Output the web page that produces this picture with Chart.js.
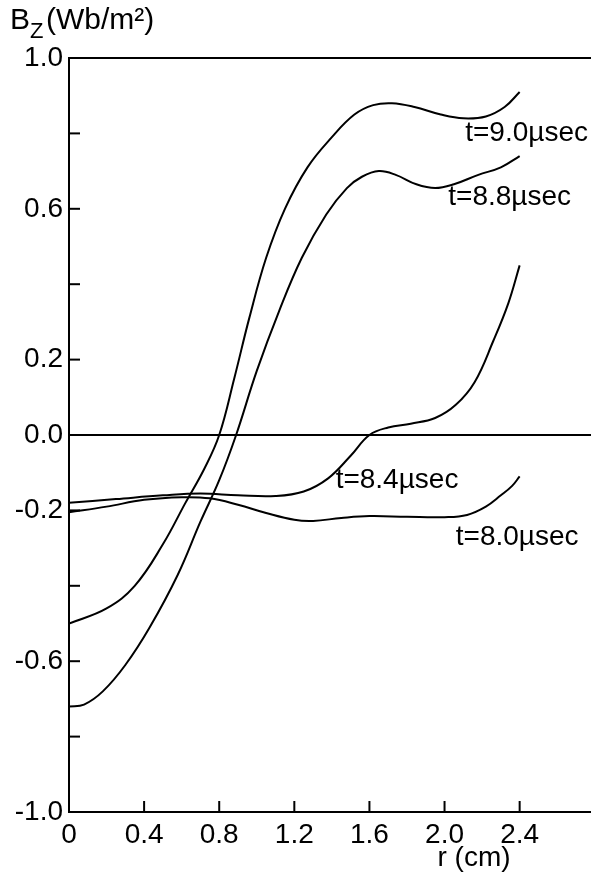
<!DOCTYPE html>
<html>
<head>
<meta charset="utf-8">
<script src="https://cdn.jsdelivr.net/npm/chart.js@4.4.1/dist/chart.umd.min.js"></script>
<style>
    html, body { margin: 0; padding: 0; background: #fff; }
</style>
</head>
<body>
<canvas id="myChart" width="591" height="876"></canvas>
<script>
// radius r (cm) and field Bz (Wb/m^2)
const r_90 = [0, 0.2, 0.35, 0.5, 0.62, 0.72, 0.80, 0.88, 0.96, 1.05, 1.15, 1.27, 1.40, 1.52, 1.62, 1.72, 1.84, 1.98, 2.10, 2.22, 2.32, 2.40];
const bz_90 = [-0.50, -0.46, -0.40, -0.29, -0.18, -0.09, 0.0, 0.15, 0.31, 0.47, 0.60, 0.71, 0.79, 0.85, 0.875, 0.88, 0.87, 0.85, 0.84, 0.845, 0.87, 0.91];

const r_88 = [0, 0.08, 0.18, 0.30, 0.43, 0.58, 0.70, 0.80, 0.89, 1.00, 1.12, 1.24, 1.37, 1.48, 1.56, 1.65, 1.74, 1.85, 1.95, 2.05, 2.18, 2.30, 2.40];
const bz_88 = [-0.72, -0.715, -0.68, -0.61, -0.51, -0.37, -0.23, -0.12, 0.0, 0.17, 0.33, 0.47, 0.585, 0.655, 0.685, 0.70, 0.69, 0.665, 0.655, 0.665, 0.69, 0.71, 0.74];

const r_84 = [0, 0.25, 0.50, 0.70, 0.90, 1.10, 1.25, 1.38, 1.50, 1.60, 1.70, 1.82, 1.95, 2.06, 2.16, 2.26, 2.34, 2.40];
const bz_84 = [-0.18, -0.17, -0.16, -0.155, -0.16, -0.162, -0.15, -0.115, -0.055, 0.0, 0.02, 0.03, 0.045, 0.08, 0.14, 0.25, 0.35, 0.45];

const r_80 = [0, 0.2, 0.4, 0.6, 0.75, 0.90, 1.05, 1.20, 1.30, 1.45, 1.60, 1.80, 2.00, 2.12, 2.22, 2.30, 2.36, 2.40];
const bz_80 = [-0.205, -0.19, -0.172, -0.165, -0.168, -0.185, -0.207, -0.225, -0.228, -0.22, -0.215, -0.217, -0.218, -0.212, -0.19, -0.16, -0.135, -0.11];

const curveNames = ['t=9.0µsec', 't=8.8µsec', 't=8.4µsec', 't=8.0µsec'];
// where each curve name sits, in data units (left edge, middle)
const nameR = [2.11, 2.02, 1.42, 2.06];
const nameBz = [0.80, 0.63, -0.12, -0.27];

const yLabelled = [1.0, 0.6, 0.2, 0.0, -0.2, -0.6, -1.0];
const xLabels = ['0', '0.4', '0.8', '1.2', '1.6', '2.0', '2.4'];

const FONT = "'Liberation Sans', Arial, sans-serif";

function toPoints(xs, ys) {
    return xs.map((x, i) => ({x: x, y: ys[i]}));
}

const series = [[r_90, bz_90], [r_88, bz_88], [r_84, bz_84], [r_80, bz_80]];

// inward tick marks, curve names and axis titles
const extras = {
    id: 'extras',
    afterDraw(chart) {
        const c = chart.ctx;
        const xs = chart.scales.x, ys = chart.scales.y;
        const area = chart.chartArea;
        c.save();
        c.strokeStyle = '#000';
        c.lineWidth = 2;
        ys.ticks.forEach(t => {
            if (Math.abs(t.value) < 1e-6 || Math.abs(Math.abs(t.value) - 1) < 1e-6) return;
            const py = ys.getPixelForValue(t.value);
            c.beginPath();
            c.moveTo(area.left, py);
            c.lineTo(area.left + 11, py);
            c.stroke();
        });
        xs.ticks.forEach(t => {
            if (t.value < 1e-6) return;
            const px = xs.getPixelForValue(t.value);
            c.beginPath();
            c.moveTo(px, area.bottom);
            c.lineTo(px, area.bottom - 11);
            c.stroke();
        });

        c.fillStyle = '#000';
        c.textBaseline = 'middle';
        c.textAlign = 'left';
        c.font = '28px ' + FONT;
        curveNames.forEach((n, i) => {
            c.fillText(n, xs.getPixelForValue(nameR[i]), ys.getPixelForValue(nameBz[i]));
        });

        // y title  B_Z (Wb/m²)
        c.textBaseline = 'alphabetic';
        c.font = '30px ' + FONT;
        c.fillText('B', 10, 29);
        c.font = '22px ' + FONT;
        c.fillText('Z', 30, 38);
        c.font = '30px ' + FONT;
        c.fillText('(Wb/m²)', 46, 29);

        // x title
        c.textAlign = 'center';
        c.font = '28px ' + FONT;
        c.fillText('r (cm)', 474, 866);
        c.restore();
    }
};

const ctx = document.getElementById('myChart');

new Chart(ctx, {
    type: 'scatter',
    data: {
        datasets: series.map((s, i) => ({
            label: curveNames[i],
            data: toPoints(s[0], s[1]),
            showLine: true,
            borderColor: '#000',
            borderWidth: 2,
            pointRadius: 0,
            tension: 0.4,
            fill: false
        }))
    },
    options: {
        responsive: false,
        devicePixelRatio: 1,
        animation: false,
        layout: {padding: {top: 58, right: 0, left: 0, bottom: 0}},
        plugins: {
            legend: {display: false},
            tooltip: {enabled: false}
        },
        scales: {
            x: {
                type: 'linear',
                min: 0,
                max: 2.78,
                afterFit: s => { s.height = 64; },
                border: {display: true, color: '#000', width: 2},
                grid: {drawOnChartArea: false, drawTicks: false},
                ticks: {
                    stepSize: 0.4,
                    includeBounds: false,
                    autoSkip: false,
                    maxRotation: 0,
                    padding: 6,
                    color: '#000',
                    font: {family: FONT, size: 28},
                    callback: (v, i) => (i < xLabels.length ? xLabels[i] : '')
                }
            },
            y: {
                type: 'linear',
                min: -1,
                max: 1,
                afterFit: s => { s.width = 69; },
                border: {display: true, color: '#000', width: 2},
                grid: {
                    drawTicks: false,
                    lineWidth: 2,
                    color: c => (c.tick && (Math.abs(c.tick.value) < 1e-6 || Math.abs(c.tick.value - 1) < 1e-6) ? '#000' : 'rgba(0,0,0,0)')
                },
                ticks: {
                    stepSize: 0.2,
                    autoSkip: false,
                    padding: 6,
                    color: '#000',
                    font: {family: FONT, size: 28},
                    callback: v => (yLabelled.some(l => Math.abs(l - v) < 1e-6) ? v.toFixed(1) : '')
                }
            }
        }
    },
    plugins: [extras]
});
</script>
</body>
</html>
